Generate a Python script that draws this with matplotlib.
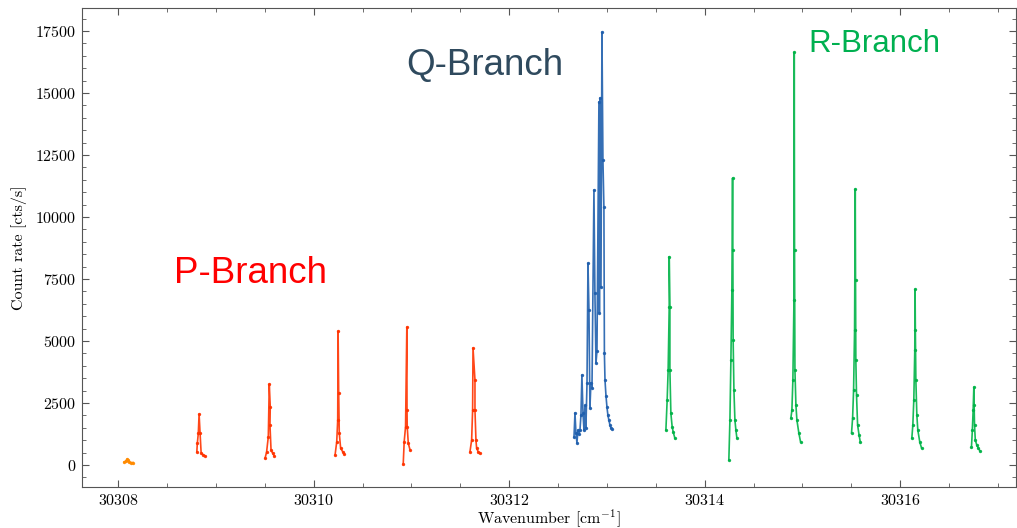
#---------------------------------------------------------------------------------------------------------------------------
# Rotational spectrum: P-, Q- and R-Branch count rates vs. wavenumber
#---------------------------------------------------------------------------------------------------------------------------
# Required modules
import matplotlib
matplotlib.use('Agg')
import matplotlib.pyplot as plt            # Plotting library
from matplotlib.ticker import MultipleLocator
#---------------------------------------------------------------------------------------------------------------------------
# Data read off the picture (wavenumber in cm^-1, count rate in cts/s), one list per measured line

# P-Branch (first weak line is drawn in orange)
p0_x = [30308.061, 30308.077, 30308.092, 30308.099, 30308.112, 30308.133, 30308.153]
p0_y = [120, 160, 240, 215, 120, 100, 100]

p_x = [
    [30308.805, 30308.810, 30308.820, 30308.828, 30308.838, 30308.849, 30308.872, 30308.890],
    [30309.503, 30309.519, 30309.536, 30309.546, 30309.556, 30309.553, 30309.564, 30309.581, 30309.597],
    [30310.219, 30310.236, 30310.246, 30310.250, 30310.256, 30310.262, 30310.276, 30310.297, 30310.313],
    [30310.916, 30310.926, 30310.940, 30310.953, 30310.955, 30310.957, 30310.968, 30310.986],
    [30311.599, 30311.616, 30311.626, 30311.630, 30311.650, 30311.650, 30311.660, 30311.667, 30311.683, 30311.701],
]
p_y = [
    [536, 874, 1277, 2055, 1290, 484, 403, 363],
    [270, 536, 1140, 3265, 2350, 1612, 605, 470, 363],
    [403, 940, 1815, 5400, 2890, 1277, 673, 536, 443],
    [28, 940, 1545, 5560, 2220, 1545, 874, 605],
    [536, 1008, 2218, 4720, 3427, 2218, 1008, 673, 536, 470],
]

# Q-Branch (one dense scan)
q_x = [30312.663, 30312.673, 30312.683, 30312.693, 30312.704, 30312.714, 30312.724, 30312.734, 30312.744, 30312.755,
       30312.765, 30312.775, 30312.785, 30312.796, 30312.806, 30312.816, 30312.826, 30312.836, 30312.847, 30312.867,
       30312.877, 30312.888, 30312.898, 30312.918, 30312.923, 30312.928, 30312.939, 30312.949, 30312.959, 30312.969,
       30312.974, 30312.980, 30312.990, 30313.000, 30313.010, 30313.020, 30313.031, 30313.041, 30313.051]
q_y = [1130, 2100, 1290, 890, 1410, 1250, 1400, 2000, 3630, 2100,
       1410, 2400, 1500, 3300, 8140, 6250, 2300, 3300, 3100, 11090,
       6930, 4110, 4600, 14640, 6130, 14800, 7180, 17460, 12300, 10400,
       4500, 3430, 2800, 2340, 2000, 1810, 1600, 1490, 1450]

# R-Branch
r_x = [
    [30313.603, 30313.616, 30313.626, 30313.637, 30313.637, 30313.644, 30313.644, 30313.654, 30313.667, 30313.677, 30313.695],
    [30314.247, 30314.258, 30314.268, 30314.278, 30314.285, 30314.288, 30314.291, 30314.299, 30314.309, 30314.319, 30314.329],
    [30314.882, 30314.892, 30314.902, 30314.913, 30314.916, 30314.919, 30314.923, 30314.933, 30314.943, 30314.963, 30314.980],
    [30315.502, 30315.513, 30315.523, 30315.533, 30315.540, 30315.543, 30315.546, 30315.553, 30315.564, 30315.579, 30315.591],
    [30316.119, 30316.129, 30316.139, 30316.149, 30316.152, 30316.155, 30316.160, 30316.170, 30316.180, 30316.200, 30316.218],
    [30316.729, 30316.738, 30316.746, 30316.753, 30316.756, 30316.760, 30316.768, 30316.783, 30316.798, 30316.814],
]
r_y = [
    [1410, 2620, 3830, 6380, 8400, 6380, 3830, 2080, 1545, 1345, 1075],
    [200, 1815, 4230, 7050, 11570, 8670, 5040, 3020, 1815, 1410, 1090],
    [1900, 2220, 3430, 6650, 16650, 8670, 3830, 2420, 1815, 1290, 940],
    [1290, 1900, 3020, 5440, 11130, 7460, 4230, 2820, 1612, 1210, 940],
    [1090, 1612, 2620, 4640, 7090, 5440, 3430, 2015, 1410, 927, 685],
    [740, 1410, 2220, 3140, 2420, 1612, 1008, 806, 685, 576],
]
#---------------------------------------------------------------------------------------------------------------------------
# LaTeX-like look without a LaTeX install
plt.rcParams['font.family'] = 'serif'
plt.rcParams['font.serif'] = ['cmr10']
plt.rcParams['mathtext.fontset'] = 'cm'
plt.rcParams['axes.formatter.use_mathtext'] = True
plt.rcParams['font.size'] = 11.5

# Choose the plot size (width x height, in inches)
fig = plt.figure(figsize=(10.17, 5.28), dpi=100)
ax = fig.add_axes([0.0806, 0.0777, 0.918, 0.907])

line_kw = dict(linewidth=1.2, marker='o', markersize=1.4, alpha=0.9)

# Plot the lines
ax.plot(p0_x, p0_y, color='#FF8A00', **line_kw)
for xs, ys in zip(p_x, p_y):
    ax.plot(xs, ys, color='#FF3300', **line_kw)
ax.plot(q_x, q_y, color='#1F5FAD', **line_kw)
for xs, ys in zip(r_x, r_y):
    ax.plot(xs, ys, color='#00B347', **line_kw)

# Axis limits, ticks and labels
ax.set_xlim(30307.63, 30317.18)
ax.set_ylim(-887, 18427)
ax.xaxis.set_major_locator(MultipleLocator(2))
ax.xaxis.set_minor_locator(MultipleLocator(0.5))
ax.yaxis.set_major_locator(MultipleLocator(2500))
ax.yaxis.set_minor_locator(MultipleLocator(500))
ax.ticklabel_format(useOffset=False)
ax.tick_params(which='both', direction='in', top=True, right=True, color='#555555')
ax.tick_params(which='major', length=5, pad=4)
ax.tick_params(which='minor', length=3)
for s in ax.spines.values():
    s.set_color('#555555')
ax.set_xlabel(r'Wavenumber [cm$^{-1}$]', labelpad=0)
ax.set_ylabel('Count rate [cts/s]', labelpad=6)

# Branch annotations
ax.text(30309.35, 7740, 'P-Branch', color='#FF0000', fontsize=26.5, family='Liberation Sans', ha='center', va='center')
ax.text(30311.75, 16120, 'Q-Branch', color='#2F4A5E', fontsize=26.5, family='Liberation Sans', ha='center', va='center')
ax.text(30315.74, 16970, 'R-Branch', color='#00B050', fontsize=22.5, family='Liberation Sans', ha='center', va='center')
#---------------------------------------------------------------------------------------------------------------------------
# Save the image
plt.savefig('out.png', dpi=100)
